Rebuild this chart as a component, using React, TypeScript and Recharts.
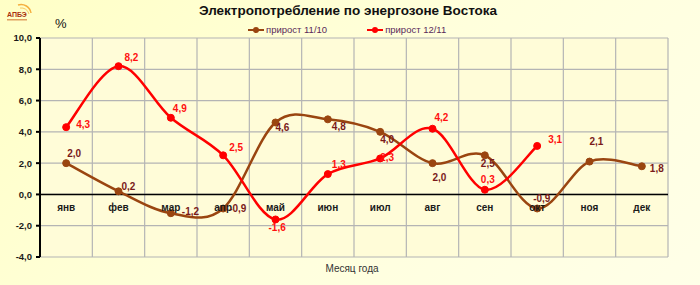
import { LineChart, Line, YAxis, XAxis, CartesianGrid, ReferenceLine, LabelList } from "recharts";

const months = ["янв", "фев", "мар", "апр", "май", "июн", "июл", "авг", "сен", "окт", "ноя", "дек"];
const growth1110 = [2.0, 0.2, -1.2, -0.9, 4.6, 4.8, 4.0, 2.0, 2.5, -0.9, 2.1, 1.8];
const growth1211 = [4.3, 8.2, 4.9, 2.5, -1.6, 1.3, 2.3, 4.2, 0.3, 3.1, null, null];
const yTicks = [-4, -2, 0, 2, 4, 6, 8, 10];

// label offsets (dx to text start, dy to text middle)
const shift1110 = [[1, -10], [3, -5], [11, -2], [6, 0], [0, 5], [4, 7], [0, 8], [0, 14], [-4, 8], [-4, -10], [0, -20], [8, 2]];
const shift1211 = [[10, -3], [6, -9], [2, -9], [6, -8], [-7, 8], [4, -10], [0, -1], [2, -11], [-4, -10], [11, -6], [0, 0], [0, 0]];

const data = months.map((m, i) => ({ month: m, g1110: growth1110[i], g1211: growth1211[i] }));

const fmt = (v: number) => v.toFixed(1).replace(".", ",");
const FONT = "'Liberation Sans', Arial, sans-serif";

// Excel-style smoothed line (Catmull-Rom as cubic bezier)
const excelSmooth = (context: any) => {
  let pts: number[][] = [];
  return {
    areaStart() {},
    areaEnd() {},
    lineStart() {
      pts = [];
    },
    point(x: number, y: number) {
      pts.push([+x, +y]);
    },
    lineEnd() {
      const n = pts.length;
      if (!n) return;
      context.moveTo(pts[0][0], pts[0][1]);
      for (let i = 0; i < n - 1; i++) {
        const p0 = pts[Math.max(i - 1, 0)];
        const p1 = pts[i];
        const p2 = pts[i + 1];
        const p3 = pts[Math.min(i + 2, n - 1)];
        context.bezierCurveTo(
          p1[0] + (p2[0] - p0[0]) / 6,
          p1[1] + (p2[1] - p0[1]) / 6,
          p2[0] - (p3[0] - p1[0]) / 6,
          p2[1] - (p3[1] - p1[1]) / 6,
          p2[0],
          p2[1]
        );
      }
    },
  };
};

const makeLabel = (shift: number[][], color: string) => (props: any) => {
  const { x, y, value, index } = props;
  if (value === null || value === undefined) return null;
  const [dx, dy] = shift[index] || [4, -8];
  return (
    <text x={x + dx} y={y + dy} fill={color} fontSize={10} fontWeight="bold" fontFamily={FONT} dominantBaseline="central">
      {fmt(Number(value))}
    </text>
  );
};

const monthLabel = (props: any) => {
  const { x, y, index } = props;
  return (
    <text x={x} y={y + 13} fill="#1a1a1a" fontSize={10} fontWeight="bold" fontFamily={FONT} textAnchor="middle" dominantBaseline="central">
      {months[index]}
    </text>
  );
};

const LegendItem = ({ color, text }: { color: string; text: string }) => (
  <div style={{ display: "flex", alignItems: "center", gap: 2 }}>
    <svg width={16} height={8}>
      <line x1={0} y1={4} x2={16} y2={4} stroke={color} strokeWidth={2} />
      <circle cx={8} cy={4} r={3} fill={color} />
    </svg>
    <span style={{ fontSize: 9.5, color: "#5a2a5a" }}>{text}</span>
  </div>
);

export default function App() {
  return (
    <div
      style={{
        position: "fixed",
        left: 0,
        top: 0,
        width: 700,
        height: 285,
        background: "linear-gradient(135deg, #ffffc6 0%, #ffffdc 50%, #ffffe8 100%)",
        fontFamily: FONT,
        overflow: "hidden",
      }}
    >
      <LineChart width={700} height={285} data={data} margin={{ top: 38, right: 32, bottom: 28, left: 0 }} style={{ position: "absolute", left: 0, top: 0 }}>
        <CartesianGrid
          stroke="#b4b4b4"
          strokeWidth={1.2}
          fill="#fffcd8"
          fillOpacity={1}
          verticalCoordinatesGenerator={({ offset }: any) =>
            months.map((_, i) => offset.left + ((i + 1) * offset.width) / months.length)
          }
        />
        <XAxis dataKey="month" hide scale="band" />
        <YAxis
          width={40}
          domain={[-4, 10]}
          ticks={yTicks}
          tickFormatter={fmt}
          stroke="#000"
          strokeWidth={2}
          tickSize={4}
          tickMargin={4}
          tick={{ fill: "#1a1a1a", fontSize: 9.5, fontWeight: "bold", fontFamily: FONT }}
          interval={0}
        />
        <ReferenceLine y={0} stroke="#000" strokeWidth={1.6} />
        <Line dataKey={() => 0} stroke="none" dot={false} activeDot={false} isAnimationActive={false} legendType="none">
          <LabelList content={monthLabel} />
        </Line>
        <Line
          dataKey="g1110"
          name="прирост 11/10"
          type={excelSmooth as any}
          stroke="#9a4510"
          strokeWidth={2.5}
          dot={{ r: 3.5, fill: "#9a4510", stroke: "#9a4510", strokeWidth: 1 }}
          activeDot={false}
          isAnimationActive={false}
        >
          <LabelList dataKey="g1110" content={makeLabel(shift1110, "#7a1a1a")} />
        </Line>
        <Line
          dataKey="g1211"
          name="прирост 12/11"
          type={excelSmooth as any}
          stroke="#ff0000"
          strokeWidth={2.5}
          dot={{ r: 3.5, fill: "#ff0000", stroke: "#ff0000", strokeWidth: 1 }}
          activeDot={false}
          connectNulls={false}
          isAnimationActive={false}
        >
          <LabelList dataKey="g1211" content={makeLabel(shift1211, "#ff1010")} />
        </Line>
      </LineChart>

      <div style={{ position: "absolute", left: 0, top: 3, width: 696, textAlign: "center", fontSize: 13.5, fontWeight: "bold", color: "#111" }}>
        Электропотребление по энергозоне Востока
      </div>
      <div style={{ position: "absolute", left: 55, top: 16, fontSize: 13, color: "#111" }}>%</div>
      <div style={{ position: "absolute", left: 248, top: 24, display: "flex", gap: 40 }}>
        <LegendItem color="#9a4510" text="прирост 11/10" />
        <LegendItem color="#ff0000" text="прирост 12/11" />
      </div>
      <div style={{ position: "absolute", left: 0, top: 263, width: 704, textAlign: "center", fontSize: 10, color: "#333" }}>
        Месяц года
      </div>
      <svg style={{ position: "absolute", left: 4, top: 1 }} width={30} height={22}>
        <path d="M14 4 A10 10 0 0 1 27 12" fill="none" stroke="#f5b040" strokeWidth={1.5} />
        <path d="M16 7 A8 8 0 0 1 25 13" fill="none" stroke="#f8c860" strokeWidth={1} />
        <text x={3} y={16} fontSize={7} fontWeight="bold" fill="#a83010" fontFamily={FONT}>АПБЭ</text>
        <rect x={3} y={18} width={20} height={1.5} fill="#e0a060" />
      </svg>
    </div>
  );
}
